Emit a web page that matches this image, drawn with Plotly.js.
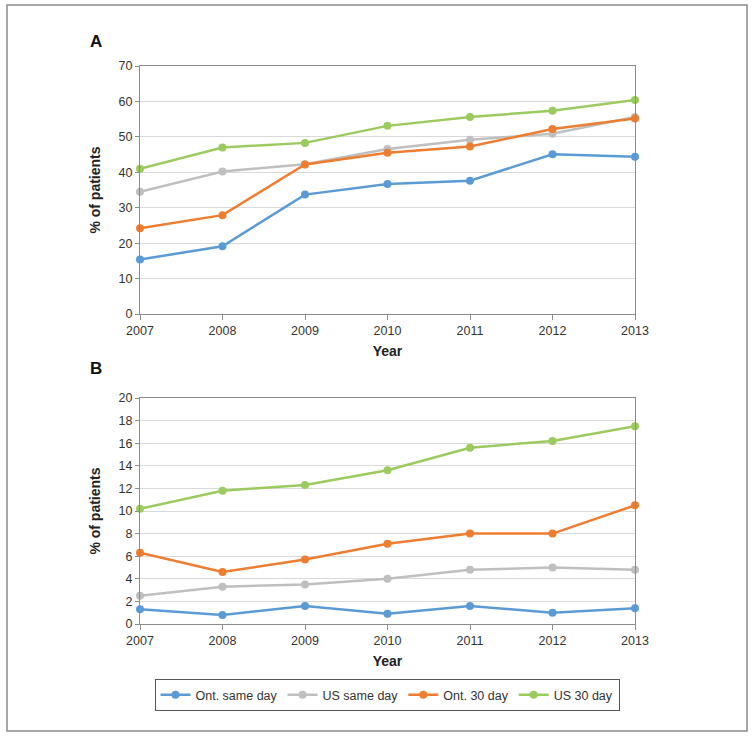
<!DOCTYPE html>
<html>
<head>
<meta charset="utf-8">
<script src="https://cdn.plot.ly/plotly-3.0.1.min.js"></script>
<style>html,body{margin:0;padding:0;background:#fff;}#chart{width:754px;height:738px;}</style>
</head>
<body>
<div id="chart"></div>
<script>
// Data
const years = [2007, 2008, 2009, 2010, 2011, 2012, 2013];
const seriesNames = ["Ont. same day", "US same day", "Ont. 30 day", "US 30 day"];
const seriesColors = ["#5B9BD5", "#BFBFBF", "#ED7D31", "#9BCB5E"];

// Panel A
const aOntSameDay = [15.4, 19.1, 33.7, 36.7, 37.6, 45.1, 44.4];
const aUsSameDay  = [34.5, 40.2, 42.3, 46.6, 49.2, 50.9, 55.6];
const aOnt30Day   = [24.2, 27.9, 42.2, 45.5, 47.3, 52.2, 55.2];
const aUs30Day    = [41.0, 47.0, 48.3, 53.1, 55.6, 57.4, 60.4];

// Panel B
const bOntSameDay = [1.3, 0.8, 1.6, 0.9, 1.6, 1.0, 1.4];
const bUsSameDay  = [2.5, 3.3, 3.5, 4.0, 4.8, 5.0, 4.8];
const bOnt30Day   = [6.3, 4.6, 5.7, 7.1, 8.0, 8.0, 10.5];
const bUs30Day    = [10.2, 11.8, 12.3, 13.6, 15.6, 16.2, 17.5];

const W = 754, H = 738;
const px = v => v / W;
const py = v => 1 - v / H;

const aSeries = [aOntSameDay, aUsSameDay, aOnt30Day, aUs30Day];
const bSeries = [bOntSameDay, bUsSameDay, bOnt30Day, bUs30Day];

const traces = [];
aSeries.forEach((ys, i) => {
  traces.push({
    x: years, y: ys, name: seriesNames[i], type: 'scatter', mode: 'lines+markers',
    xaxis: 'x', yaxis: 'y', showlegend: false, cliponaxis: false,
    line: {color: seriesColors[i], width: 2.5},
    marker: {color: seriesColors[i], size: 8}
  });
});
bSeries.forEach((ys, i) => {
  traces.push({
    x: years, y: ys, name: seriesNames[i], type: 'scatter', mode: 'lines+markers',
    xaxis: 'x2', yaxis: 'y2', showlegend: true, cliponaxis: false,
    line: {color: seriesColors[i], width: 2.5},
    marker: {color: seriesColors[i], size: 8}
  });
});

const tickFont = {family: 'Liberation Sans, Arial, sans-serif', size: 12.5, color: '#333'};
const titleFont = {family: 'Liberation Sans, Arial, sans-serif', size: 14, color: '#222', weight: 'bold'};

function xAxis(anchor) {
  return {
    domain: [px(140), px(635)], anchor: anchor, range: [2007, 2013],
    tickvals: years, ticktext: years.map(String), tickfont: tickFont,
    showgrid: false, zeroline: false, showline: true, mirror: true,
    linecolor: '#8c8c8c', linewidth: 1, ticks: 'outside', ticklen: 5, tickcolor: '#8c8c8c',
    title: {text: 'Year', font: titleFont, standoff: 9}, fixedrange: true
  };
}
function yAxis(anchor, dom, rng, dt) {
  return {
    domain: dom, anchor: anchor, range: rng, dtick: dt, tick0: 0,
    tickfont: tickFont, showgrid: true, gridcolor: '#d9d9d9', gridwidth: 1,
    zeroline: false, showline: true, mirror: true, linecolor: '#8c8c8c', linewidth: 1,
    ticks: 'outside', ticklen: 4, tickcolor: '#8c8c8c',
    title: {text: '% of patients', font: titleFont, standoff: 14}, fixedrange: true
  };
}

const layout = {
  width: W, height: H,
  margin: {l: 0, r: 0, t: 0, b: 0},
  paper_bgcolor: '#fff', plot_bgcolor: '#fff',
  font: {family: 'Liberation Sans, Arial, sans-serif'},
  xaxis: xAxis('y'),
  yaxis: yAxis('x', [py(314), py(66)], [0, 70], 10),
  xaxis2: xAxis('y2'),
  yaxis2: yAxis('x2', [py(624), py(398)], [0, 20], 2),
  showlegend: true,
  legend: {
    orientation: 'h', x: px(387), xanchor: 'center', y: py(695), yanchor: 'middle',
    bordercolor: '#555', borderwidth: 1, bgcolor: '#fff',
    font: {family: 'Liberation Sans, Arial, sans-serif', size: 12.5, color: '#333'},
    itemwidth: 30, traceorder: 'normal'
  },
  shapes: [{
    type: 'rect', xref: 'paper', yref: 'paper',
    x0: px(7), x1: px(747), y0: py(731), y1: py(5),
    line: {color: '#8a8a8a', width: 1.5}, fillcolor: 'rgba(0,0,0,0)'
  }],
  annotations: [
    {text: 'A', xref: 'paper', yref: 'paper', x: px(96), y: py(41), showarrow: false,
     xanchor: 'center', yanchor: 'middle', font: {family: 'Liberation Sans, Arial, sans-serif', size: 17, color: '#111', weight: 'bold'}},
    {text: 'B', xref: 'paper', yref: 'paper', x: px(96), y: py(368), showarrow: false,
     xanchor: 'center', yanchor: 'middle', font: {family: 'Liberation Sans, Arial, sans-serif', size: 17, color: '#111', weight: 'bold'}}
  ]
};

Plotly.newPlot('chart', traces, layout, {displayModeBar: false, staticPlot: true});
</script>
</body>
</html>
